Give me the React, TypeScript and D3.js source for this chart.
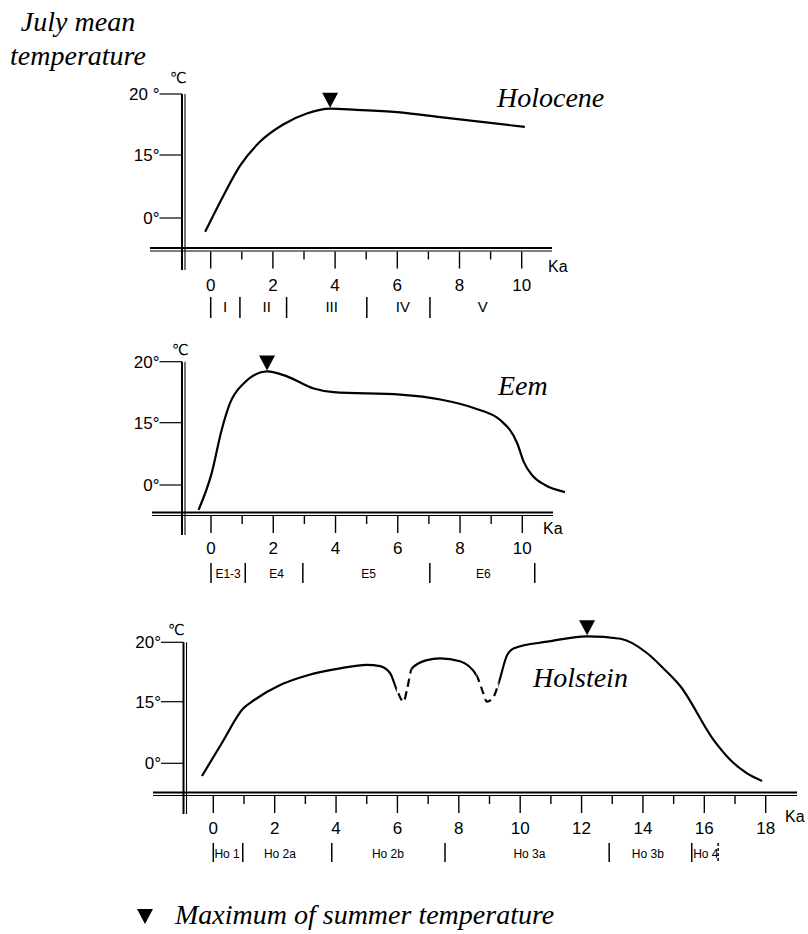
import React from 'react';
import * as d3 from 'd3';

// ---------- data ----------
const yTickValues = [0, 15, 20];

const holoceneKa = [-0.18, 0.4, 0.94, 1.59, 2.33, 3.09, 3.84, 4.69, 6.09, 7.38, 10.1];
const holoceneTemp = [-3.3, 5.2, 12.4, 16.1, 17.5, 18.4, 18.8, 18.7, 18.5, 18.1, 17.3];
const holoceneMaxKa = 3.84;
const holoceneYLabels = ['0°', '15°', '20 °'];
const holocenePhaseBounds = [0, 0.94, 2.44, 5.02, 7.05];
const holocenePhaseLabels = ['I', 'II', 'III', 'IV', 'V'];
const holocenePhaseLabelKa = [0.46, 1.8, 3.89, 6.18, 8.75];

const eemKa = [-0.4, 0.02, 0.34, 0.61, 1.04, 1.8, 2.44, 3.3, 3.94, 6.08, 7.37, 8.44, 9.3, 9.84, 10.05, 10.31, 10.73, 11.37];
const eemTemp = [-6.0, 2.8, 13.2, 16.6, 18.2, 19.2, 18.8, 17.8, 17.5, 17.3, 16.9, 16.2, 15.2, 10.0, 5.5, 2.4, 0, -1.7];
const eemMaxKa = 1.8;
const eemYLabels = ['0°', '15°', '20°'];
const eemPhaseBounds = [0, 1.1, 2.95, 7.03, 10.4];
const eemPhaseLabels = ['E1-3', 'E4', 'E5', 'E6'];
const eemPhaseLabelKa = [0.55, 2.11, 5.06, 8.75];

const holsteinKa = [-0.37, 0.3, 0.98, 1.31, 2.18, 3.05, 4.13, 5.0, 5.43, 5.76, 5.98, 6.2, 6.31, 6.47, 6.96, 7.39, 8.04, 8.58, 8.8, 8.91, 9.13, 9.29, 9.57, 9.8, 10.88, 12.18, 13.27, 14.13, 14.67, 15.22, 16.3, 16.85, 17.38, 17.88];
const holsteinTemp = [-3.1, 5.2, 13.4, 15.1, 16.4, 17.2, 17.8, 18.1, 18.0, 17.4, 16.0, 15.0, 16.0, 17.8, 18.5, 18.65, 18.4, 17.2, 15.7, 15.0, 15.4, 16.5, 18.9, 19.5, 20.05, 20.5, 20.3, 19.1, 17.8, 16.3, 5.7, 0.8, -2.4, -4.3];
const holsteinMaxKa = 12.18;
const holsteinYLabels = ['0°', '15°', '20°'];
const holsteinDashedKa = [[5.98, 6.47], [8.58, 9.29]];
const holsteinPhaseBounds = [0, 0.96, 3.86, 7.55, 12.9, 15.59];
const holsteinPhaseDashedBound = [16.45];
const holsteinPhaseLabels = ['Ho 1', 'Ho 2a', 'Ho 2b', 'Ho 3a', 'Ho 3b', 'Ho 4'];
const holsteinPhaseLabelKa = [0.45, 2.17, 5.69, 10.3, 14.16, 16.05];

const titleLines = ['July mean', 'temperature'];
const legendText = 'Maximum of summer temperature';

// ---------- styling ----------
const SANS = "'Liberation Sans', Arial, Helvetica, sans-serif";
const SERIF = "'Liberation Serif', 'Times New Roman', serif";

type Cfg = {
  id: string;
  name: string;
  ka: number[];
  temp: number[];
  maxKa: number;
  xMax: number;
  xRange: [number, number];
  yRange: number[];
  yLabels: string[];
  yAxisX: number;
  xAxisY: number;
  xAxisFrom: number;
  xAxisTo: number;
  yAxisBottom: number;
  tickBaseline: number;
  kaPos: [number, number];
  phaseBaseline: number;
  sepTop: number;
  sepBottom: number;
  phaseBounds: number[];
  phaseDashed?: number[];
  phaseLabels: string[];
  phaseLabelKa: number[];
  phaseFont: number;
  namePos: [number, number];
  degPos: [number, number];
  dashed?: number[][];
};

function Panel({ c }: { c: Cfg }) {
  const x = d3.scaleLinear().domain([0, c.xMax]).range(c.xRange);
  const y = d3.scaleLinear().domain(yTickValues).range(c.yRange);
  const pts: [number, number][] = c.ka.map((k, i) => [k, c.temp[i]]);
  const line = d3
    .line<[number, number]>()
    .x((d) => x(d[0]))
    .y((d) => y(d[1]))
    .curve(d3.curveMonotoneX);
  const path = line(pts) || '';
  const majors = d3.range(0, c.xMax + 1, 2);
  const minors = d3.range(1, c.xMax, 2);
  const mi = c.ka.indexOf(c.maxKa);
  const mx = x(c.maxKa);
  const my = y(c.temp[mi]) - 1;
  const top = y(20);

  let solidRects: [number, number][] = [[0, 808]];
  let dashRects: [number, number][] = [];
  if (c.dashed) {
    dashRects = c.dashed.map((r) => [x(r[0]), x(r[1])]);
    solidRects = [];
    let start = 0;
    dashRects.forEach((r) => {
      solidRects.push([start, r[0]]);
      start = r[1];
    });
    solidRects.push([start, 808]);
  }

  return (
    <g>
      <defs>
        <clipPath id={`${c.id}-solid`}>
          {solidRects.map((r, i) => (
            <rect key={i} x={r[0]} y={0} width={r[1] - r[0]} height={934} />
          ))}
        </clipPath>
        {dashRects.length > 0 && (
          <clipPath id={`${c.id}-dash`}>
            {dashRects.map((r, i) => (
              <rect key={i} x={r[0]} y={0} width={r[1] - r[0]} height={934} />
            ))}
          </clipPath>
        )}
      </defs>

      {/* y axis (double line) */}
      <line x1={c.yAxisX - 1.5} x2={c.yAxisX - 1.5} y1={top} y2={c.yAxisBottom} stroke="#000" strokeWidth={2} />
      <line x1={c.yAxisX + 1.5} x2={c.yAxisX + 1.5} y1={top} y2={c.yAxisBottom} stroke="#000" strokeWidth={1.1} />
      {yTickValues.map((v, i) => (
        <g key={v}>
          <line x1={c.yAxisX - 24} x2={c.yAxisX - 1.5} y1={y(v)} y2={y(v)} stroke="#000" strokeWidth={1.2} />
          <text x={c.yAxisX - 24} y={y(v) + 6} textAnchor="end" fontFamily={SANS} fontSize={17}>
            {c.yLabels[i]}
          </text>
        </g>
      ))}
      <text x={c.degPos[0]} y={c.degPos[1]} fontFamily="'DejaVu Sans', sans-serif" fontSize={15}>
        ℃
      </text>

      {/* x axis (double line) */}
      <line x1={c.xAxisFrom} x2={c.xAxisTo} y1={c.xAxisY - 1.5} y2={c.xAxisY - 1.5} stroke="#000" strokeWidth={2} />
      <line x1={c.xAxisFrom} x2={c.xAxisTo} y1={c.xAxisY + 1.5} y2={c.xAxisY + 1.5} stroke="#000" strokeWidth={1.1} />
      {majors.map((v) => (
        <g key={v}>
          <line x1={x(v)} x2={x(v)} y1={c.xAxisY + 2} y2={c.xAxisY + 19} stroke="#000" strokeWidth={1.4} />
          <text x={x(v)} y={c.tickBaseline} textAnchor="middle" fontFamily={SANS} fontSize={17}>
            {v}
          </text>
        </g>
      ))}
      {minors.map((v) => (
        <line key={v} x1={x(v)} x2={x(v)} y1={c.xAxisY + 2} y2={c.xAxisY + 10} stroke="#000" strokeWidth={1.4} />
      ))}
      <text x={c.kaPos[0]} y={c.kaPos[1]} fontFamily={SANS} fontSize={16}>
        Ka
      </text>

      {/* phases */}
      {c.phaseBounds.map((b, i) => (
        <line key={i} x1={x(b)} x2={x(b)} y1={c.sepTop} y2={c.sepBottom} stroke="#000" strokeWidth={1.5} />
      ))}
      {(c.phaseDashed || []).map((b, i) => (
        <line key={i} x1={x(b)} x2={x(b)} y1={c.sepTop} y2={c.sepBottom} stroke="#000" strokeWidth={1.5} strokeDasharray="3,2" />
      ))}
      {c.phaseLabels.map((l, i) => (
        <text key={i} x={x(c.phaseLabelKa[i])} y={c.phaseBaseline} textAnchor="middle" fontFamily={SANS} fontSize={c.phaseFont} fill="#000">
          {l}
        </text>
      ))}

      {/* curve */}
      <path d={path} fill="none" stroke="#000" strokeWidth={2.2} clipPath={`url(#${c.id}-solid)`} />
      {dashRects.length > 0 && (
        <path d={path} fill="none" stroke="#000" strokeWidth={2.2} strokeDasharray="8,5" clipPath={`url(#${c.id}-dash)`} />
      )}

      {/* maximum marker */}
      <path d={`M${mx},${my} L${mx - 8},${my - 15} L${mx + 8},${my - 15} Z`} fill="#000" />

      <text x={c.namePos[0]} y={c.namePos[1]} fontFamily={SERIF} fontStyle="italic" fontSize={28}>
        {c.name}
      </text>
    </g>
  );
}

export default function App() {
  const panels: Cfg[] = [
    {
      id: 'holocene',
      name: 'Holocene',
      ka: holoceneKa,
      temp: holoceneTemp,
      maxKa: holoceneMaxKa,
      xMax: 10,
      xRange: [210.7, 521.7],
      yRange: [218, 155, 94],
      yLabels: holoceneYLabels,
      yAxisX: 183.5,
      xAxisY: 249.5,
      xAxisFrom: 150,
      xAxisTo: 552,
      yAxisBottom: 270,
      tickBaseline: 291,
      kaPos: [548, 272],
      phaseBaseline: 312,
      sepTop: 297,
      sepBottom: 318,
      phaseBounds: holocenePhaseBounds,
      phaseLabels: holocenePhaseLabels,
      phaseLabelKa: holocenePhaseLabelKa,
      phaseFont: 15,
      namePos: [497, 107],
      degPos: [170, 83],
    },
    {
      id: 'eem',
      name: 'Eem',
      ka: eemKa,
      temp: eemTemp,
      maxKa: eemMaxKa,
      xMax: 10,
      xRange: [211, 522.3],
      yRange: [485, 422.7, 361.7],
      yLabels: eemYLabels,
      yAxisX: 183.5,
      xAxisY: 514,
      xAxisFrom: 152,
      xAxisTo: 553,
      yAxisBottom: 535,
      tickBaseline: 554,
      kaPos: [543, 534],
      phaseBaseline: 578,
      sepTop: 563,
      sepBottom: 583,
      phaseBounds: eemPhaseBounds,
      phaseLabels: eemPhaseLabels,
      phaseLabelKa: eemPhaseLabelKa,
      phaseFont: 12,
      namePos: [498, 395],
      degPos: [172, 355],
    },
    {
      id: 'holstein',
      name: 'Holstein',
      ka: holsteinKa,
      temp: holsteinTemp,
      maxKa: holsteinMaxKa,
      xMax: 18,
      xRange: [213.3, 765.7],
      yRange: [763.3, 701.7, 642.3],
      yLabels: holsteinYLabels,
      yAxisX: 185,
      xAxisY: 794,
      xAxisFrom: 153,
      xAxisTo: 797,
      yAxisBottom: 814,
      tickBaseline: 834,
      kaPos: [785, 822],
      phaseBaseline: 858,
      sepTop: 843,
      sepBottom: 862,
      phaseBounds: holsteinPhaseBounds,
      phaseDashed: holsteinPhaseDashedBound,
      phaseLabels: holsteinPhaseLabels,
      phaseLabelKa: holsteinPhaseLabelKa,
      phaseFont: 12,
      namePos: [533, 687],
      degPos: [168, 635],
      dashed: holsteinDashedKa,
    },
  ];

  return (
    <svg
      width={808}
      height={934}
      viewBox="0 0 808 934"
      style={{ position: 'absolute', left: 0, top: 0, background: '#fff' }}
    >
      <rect width={808} height={934} fill="#fff" />
      <g opacity={0.999}>
        {titleLines.map((t, i) => (
          <text key={i} x={78} y={31 + i * 34} textAnchor="middle" fontFamily={SERIF} fontStyle="italic" fontSize={28}>
            {t}
          </text>
        ))}
        {panels.map((p) => (
          <Panel key={p.id} c={p} />
        ))}
        <path d="M137,909 L153,909 L145,924 Z" fill="#000" />
        <text x={175} y={924} fontFamily={SERIF} fontStyle="italic" fontSize={28}>
          {legendText}
        </text>
      </g>
    </svg>
  );
}
